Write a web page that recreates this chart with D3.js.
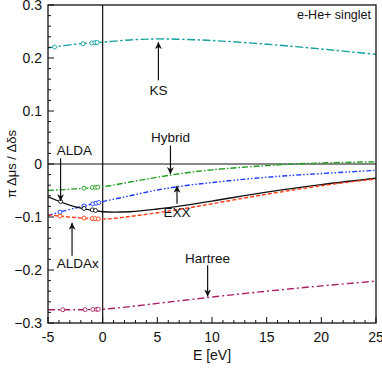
<!DOCTYPE html>
<html>
<head>
<meta charset="utf-8">
<script src="https://cdn.jsdelivr.net/npm/d3@7"></script>
<style>
  body { margin: 0; background: #fff; }
  text { font-family: "Liberation Sans", Arial, sans-serif; fill: #111; }
</style>
</head>
<body>
<div id="chart"></div>
<script>
/* curve data */
var energies = [-5, -2.5, 0, 2.5, 5, 7.5, 10, 15, 20, 25];
var ksValues      = [0.219, 0.226, 0.230, 0.234, 0.236, 0.235, 0.233, 0.226, 0.217, 0.207];
var hybridValues  = [-0.050, -0.047, -0.043, -0.034, -0.025, -0.017, -0.011, -0.003, 0.002, 0.004];
var exxValues     = [-0.097, -0.083, -0.071, -0.060, -0.049, -0.041, -0.035, -0.025, -0.018, -0.012];
var aldaValues    = [-0.062, -0.081, -0.090, -0.090, -0.085, -0.078, -0.070, -0.053, -0.039, -0.027];
var aldaxValues   = [-0.096, -0.101, -0.104, -0.099, -0.092, -0.084, -0.075, -0.057, -0.041, -0.028];
var hartreeValues = [-0.275, -0.275, -0.274, -0.269, -0.263, -0.257, -0.251, -0.240, -0.230, -0.221];

/* bound state energies marked with open circles */
var ksDots      = [-4.4, -1.8, -1.0, -0.7, -0.5];
var hybridDots  = [-1.7, -0.95, -0.65, -0.45];
var exxDots     = [-3.9, -1.7, -0.9, -0.6, -0.35];
var aldaDots    = [-3.85, -1.7, -0.95, -0.65];
var aldaxDots   = [-3.9, -1.7, -0.95, -0.7, -0.4];
var hartreeDots = [-3.65, -1.6, -0.9, -0.55, -0.4];

var xTicks = [-5, 0, 5, 10, 15, 20, 25];
var yTicks = [-0.3, -0.2, -0.1, 0, 0.1, 0.2, 0.3];

var width = 382, height = 372;
var plotL = 48, plotR = 376, plotT = 5, plotB = 323;

var svg = d3.select("#chart").append("svg")
  .attr("width", width).attr("height", height);

var x = d3.scaleLinear().domain([-5, 25]).range([plotL, plotR]);
var y = d3.scaleLinear().domain([-0.3, 0.3]).range([plotB, plotT]);

svg.append("defs").append("marker")
  .attr("id", "arr")
  .attr("viewBox", "0 0 10 10")
  .attr("refX", 10).attr("refY", 5)
  .attr("markerWidth", 7).attr("markerHeight", 7)
  .attr("markerUnits", "userSpaceOnUse")
  .attr("orient", "auto")
  .append("path").attr("d", "M0,0 L10,5 L0,10 L3,5 Z").attr("fill", "#111");

svg.append("clipPath").attr("id", "clip")
  .append("rect").attr("x", plotL).attr("y", plotT)
  .attr("width", plotR - plotL).attr("height", plotB - plotT);

/* zero lines */
svg.append("line").attr("x1", plotL).attr("x2", plotR)
  .attr("y1", y(0)).attr("y2", y(0)).attr("stroke", "#111").attr("stroke-width", 1.2);
svg.append("line").attr("x1", x(0)).attr("x2", x(0))
  .attr("y1", plotT).attr("y2", plotB).attr("stroke", "#111").attr("stroke-width", 1.2);

/* series */
var series = [
  { vals: ksValues,      dots: ksDots,      color: "#15a0a0", dash: "8,2.5,2.5,2.5" },
  { vals: hybridValues,  dots: hybridDots,  color: "#1fa01f", dash: "6,2,1.5,2" },
  { vals: exxValues,     dots: exxDots,     color: "#1e3cff", dash: "5,2,1.5,2,1.5,2" },
  { vals: aldaValues,    dots: aldaDots,    color: "#111111", dash: null },
  { vals: aldaxValues,   dots: aldaxDots,   color: "#ff3c14", dash: "4,2" },
  { vals: hartreeValues, dots: hartreeDots, color: "#a81e64", dash: "7,3,2,3" }
];

var line = d3.line()
  .x(function(d) { return x(d[0]); })
  .y(function(d) { return y(d[1]); })
  .curve(d3.curveCatmullRom);

var g = svg.append("g").attr("clip-path", "url(#clip)");

series.forEach(function(s) {
  var pts = energies.map(function(e, i) { return [e, s.vals[i]]; });
  g.append("path").datum(pts)
    .attr("d", line)
    .attr("fill", "none")
    .attr("stroke", s.color)
    .attr("stroke-width", 1.4)
    .attr("stroke-dasharray", s.dash);
  var interp = d3.scaleLinear().domain(energies).range(s.vals);
  g.selectAll(null).data(s.dots).enter().append("circle")
    .attr("cx", function(d) { return x(d); })
    .attr("cy", function(d) { return y(interp(d)); })
    .attr("r", 2)
    .attr("fill", "white")
    .attr("stroke", s.color)
    .attr("stroke-width", 0.9);
});

/* frame */
svg.append("rect").attr("x", plotL).attr("y", plotT)
  .attr("width", plotR - plotL).attr("height", plotB - plotT)
  .attr("fill", "none").attr("stroke", "#111").attr("stroke-width", 1.3);

/* ticks, pointing inward */
var xMinor = d3.range(-5, 25.5, 1);
svg.selectAll(null).data(xMinor).enter().append("line")
  .attr("x1", function(d) { return x(d); }).attr("x2", function(d) { return x(d); })
  .attr("y1", plotB).attr("y2", function(d) { return d % 5 === 0 ? plotB - 6 : plotB - 3; })
  .attr("stroke", "#111").attr("stroke-width", 1);
var yMinor = d3.range(-15, 16, 1).map(function(k) { return k * 0.02; });
svg.selectAll(null).data(yMinor).enter().append("line")
  .attr("y1", function(d) { return y(d); }).attr("y2", function(d) { return y(d); })
  .attr("x1", plotL).attr("x2", function(d, i) { return (i - 15) % 5 === 0 ? plotL + 6 : plotL + 3; })
  .attr("stroke", "#111").attr("stroke-width", 1);

svg.selectAll(null).data(xTicks).enter().append("text")
  .attr("x", function(d) { return x(d); }).attr("y", 342)
  .attr("text-anchor", "middle").style("font-size", "14px")
  .text(function(d) { return d; });
svg.selectAll(null).data(yTicks).enter().append("text")
  .attr("x", 42).attr("y", function(d) { return y(d) + 5; })
  .attr("text-anchor", "end").style("font-size", "14px")
  .text(function(d) { return d === 0 ? "0" : d3.format(".1f")(d); });

/* axis titles */
svg.append("text").attr("x", x(10)).attr("y", 360)
  .attr("text-anchor", "middle").style("font-size", "14px").text("E [eV]");
svg.append("text")
  .attr("transform", "translate(16," + y(0) + ") rotate(-90)")
  .attr("text-anchor", "middle").style("font-size", "13px").text("π Δμs / Δδs");

svg.append("text").attr("x", 371).attr("y", 19)
  .attr("text-anchor", "end").style("font-size", "12.5px").text("e-He+ singlet");

/* labels with arrows: label position, arrow start, arrow tip (E, value) */
var notes = [
  { text: "KS",      lx: 5.1,  ly: 0.130,  anchor: "middle", ax: 5.1,  y0: 0.158,  y1: 0.230 },
  { text: "Hybrid",  lx: 6.2,  ly: 0.042,  anchor: "middle", ax: 6.2,  y0: 0.035,  y1: -0.019 },
  { text: "EXX",     lx: 6.8,  ly: -0.100, anchor: "middle", ax: 6.8,  y0: -0.075, y1: -0.041 },
  { text: "ALDA",    lx: -4.2, ly: 0.017,  anchor: "start",  ax: -3.85, y0: 0.011, y1: -0.070 },
  { text: "ALDAx",   lx: -4.2, ly: -0.196, anchor: "start",  ax: -2.8, y0: -0.173, y1: -0.111 },
  { text: "Hartree", lx: 9.6,  ly: -0.186, anchor: "middle", ax: 9.6,  y0: -0.191, y1: -0.250 }
];

notes.forEach(function(n) {
  svg.append("line")
    .attr("x1", x(n.ax)).attr("x2", x(n.ax))
    .attr("y1", y(n.y0)).attr("y2", y(n.y1))
    .attr("stroke", "#111").attr("stroke-width", 1.2)
    .attr("marker-end", "url(#arr)");
  svg.append("text")
    .attr("x", x(n.lx)).attr("y", y(n.ly))
    .attr("text-anchor", n.anchor).style("font-size", "13.5px")
    .text(n.text);
});
</script>
</body>
</html>
